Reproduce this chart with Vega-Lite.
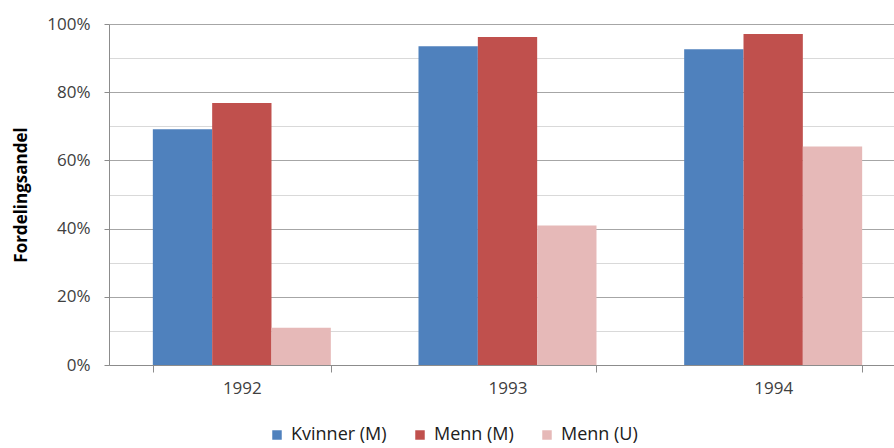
{
  "$schema": "https://vega.github.io/schema/vega-lite/v6.json",
  "width": 797,
  "height": 341,
  "autosize": {"type": "none"},
  "padding": {"left": 109, "top": 24, "right": 0, "bottom": 83},
  "background": "white",
  "config": {
    "view": {"stroke": null},
    "font": "Open Sans"
  },
  "data": {
    "values": [
      {"year": "1992", "group": "Kvinner (M)", "share": 69.1},
      {"year": "1992", "group": "Menn (M)", "share": 76.8},
      {"year": "1992", "group": "Menn (U)", "share": 10.9},
      {"year": "1993", "group": "Kvinner (M)", "share": 93.5},
      {"year": "1993", "group": "Menn (M)", "share": 96.2},
      {"year": "1993", "group": "Menn (U)", "share": 40.9},
      {"year": "1994", "group": "Kvinner (M)", "share": 92.6},
      {"year": "1994", "group": "Menn (M)", "share": 97.1},
      {"year": "1994", "group": "Menn (U)", "share": 64.1}
    ]
  },
  "mark": {"type": "bar"},
  "encoding": {
    "x": {
      "field": "year",
      "type": "nominal",
      "scale": {"paddingInner": 0.33, "paddingOuter": 0.165},
      "axis": {
        "title": null,
        "labelAngle": 0,
        "labelFontSize": 17,
        "labelColor": "#404040",
        "labelPadding": 8,
        "tickBand": "extent",
        "tickSize": 7,
        "tickColor": "#8c8c8c",
        "domainColor": "#8c8c8c",
        "grid": false
      }
    },
    "xOffset": {"field": "group", "type": "nominal", "sort": ["Kvinner (M)", "Menn (M)", "Menn (U)"], "scale": {"paddingInner": 0, "paddingOuter": 0}},
    "y": {
      "field": "share",
      "type": "quantitative",
      "scale": {"domain": [0, 100], "nice": false},
      "axis": {
        "title": "Fordelingsandel",
        "titleFontSize": 17,
        "titleFontWeight": "bold",
        "titleColor": "#000000",
        "titlePadding": 16,
        "values": [0, 10, 20, 30, 40, 50, 60, 70, 80, 90, 100],
        "labelExpr": "datum.value % 20 == 0 ? datum.value + '%' : ''",
        "labelFontSize": 17,
        "labelColor": "#404040",
        "labelPadding": 14,
        "tickSize": 5,
        "tickColor": "#8c8c8c",
        "tickOpacity": {"condition": {"test": "datum.value % 20 == 0", "value": 1}, "value": 0},
        "domainColor": "#8c8c8c",
        "gridColor": {"condition": {"test": "datum.value % 20 == 0", "value": "#a6a6a6"}, "value": "#d9d9d9"},
        "gridWidth": 1.2
      }
    },
    "color": {
      "field": "group",
      "type": "nominal",
      "sort": ["Kvinner (M)", "Menn (M)", "Menn (U)"],
      "scale": {"domain": ["Kvinner (M)", "Menn (M)", "Menn (U)"], "range": ["#4F81BD", "#C0504D", "#E6B9B8"]},
      "legend": {
        "title": null,
        "orient": "none",
        "direction": "horizontal",
        "legendX": 159,
        "legendY": 402,
        "symbolType": "square",
        "symbolSize": 90,
        "symbolStrokeWidth": 0,
        "labelFontSize": 18,
        "labelColor": "#202020",
        "columnPadding": 24,
        "labelOffset": 5
      }
    }
  }
}
